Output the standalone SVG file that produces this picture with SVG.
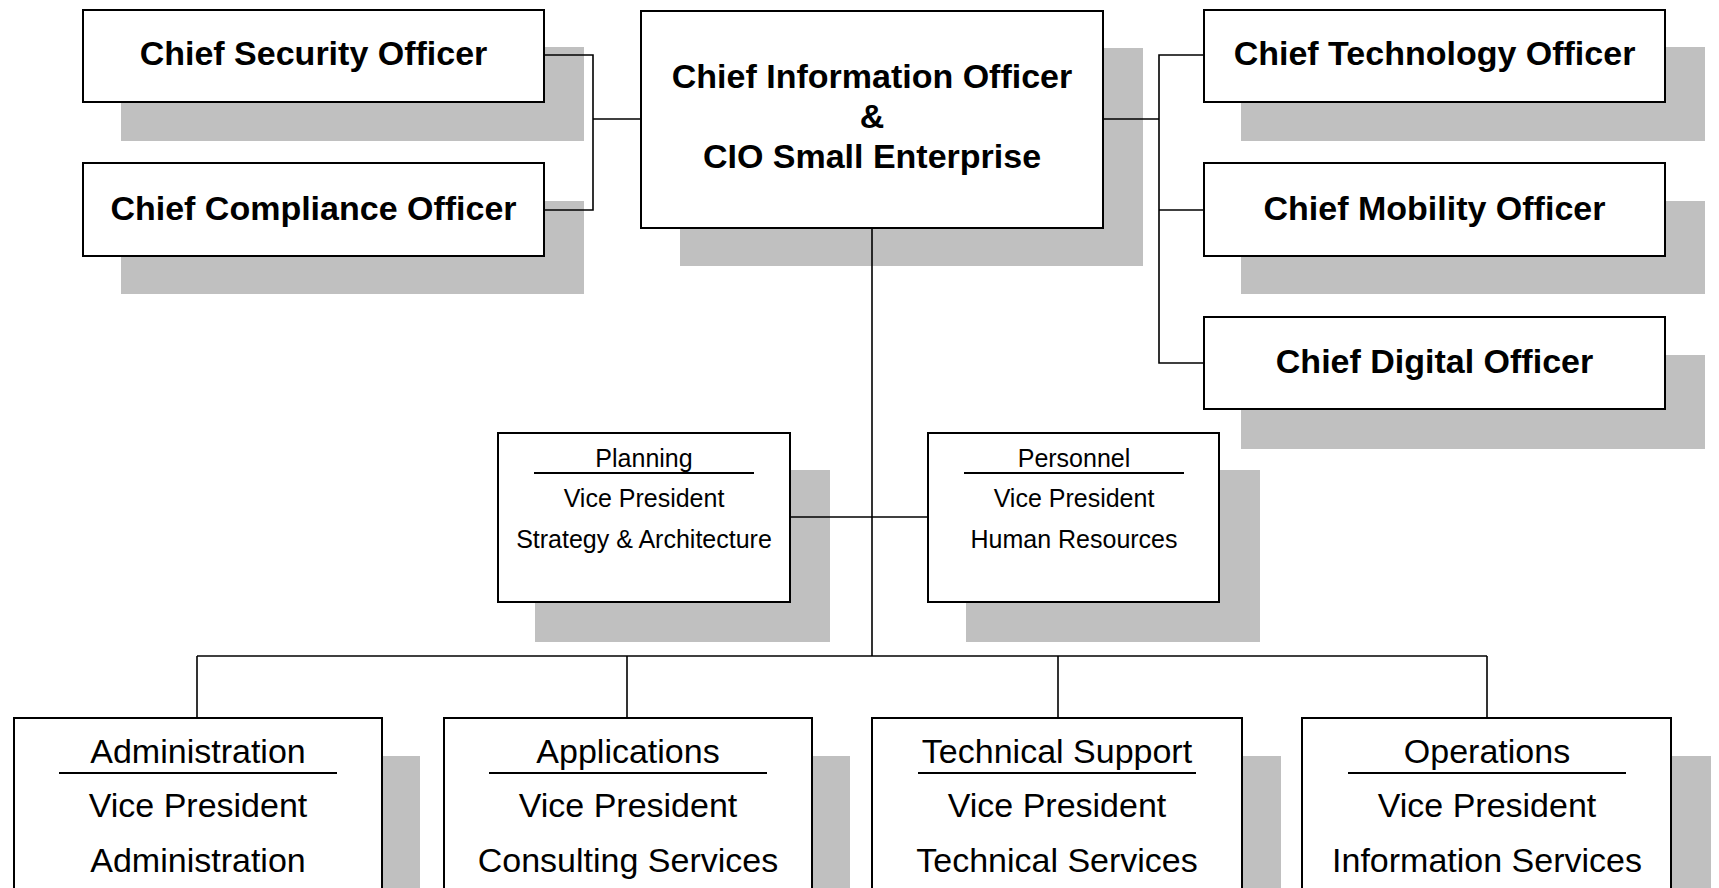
<svg xmlns="http://www.w3.org/2000/svg" width="1719" height="888" viewBox="0 0 1719 888">
<style>
.sh{fill:#c0c0c0;stroke:none}
.bx{fill:#fff;stroke:#000;stroke-width:2}
.b{font-family:"Liberation Sans",Arial,sans-serif;font-weight:bold;font-size:34px;fill:#000;text-anchor:middle}
.m{font-family:"Liberation Sans",Arial,sans-serif;font-size:25px;fill:#000;text-anchor:middle}
.l{font-family:"Liberation Sans",Arial,sans-serif;font-size:34px;fill:#000;text-anchor:middle}
.ul{stroke:#000;stroke-width:2}
.c{fill:none;stroke:#000;stroke-width:1.6}
</style>
<rect width="1719" height="888" fill="#fff"/>
<g id="cso">
<rect class="sh" x="121" y="47" width="463" height="94"/>
<rect class="bx" x="83" y="10" width="461" height="92"/>
<text class="b" x="313.5" y="65">Chief Security Officer</text>
</g>
<g id="cco">
<rect class="sh" x="121" y="201" width="463" height="93"/>
<rect class="bx" x="83" y="163" width="461" height="93"/>
<text class="b" x="313.5" y="220">Chief Compliance Officer</text>
</g>
<g id="cio">
<rect class="sh" x="680" y="48" width="463" height="218"/>
<rect class="bx" x="641" y="11" width="462" height="217"/>
<text class="b" x="872" y="88">Chief Information Officer</text>
<text class="b" x="872" y="128">&amp;</text>
<text class="b" x="872" y="168">CIO Small Enterprise</text>
</g>
<g id="cto">
<rect class="sh" x="1241" y="47" width="464" height="94"/>
<rect class="bx" x="1204" y="10" width="461" height="92"/>
<text class="b" x="1434.5" y="65">Chief Technology Officer</text>
</g>
<g id="cmo">
<rect class="sh" x="1241" y="201" width="464" height="93"/>
<rect class="bx" x="1204" y="163" width="461" height="93"/>
<text class="b" x="1434.5" y="220">Chief Mobility Officer</text>
</g>
<g id="cdo">
<rect class="sh" x="1241" y="355" width="464" height="94"/>
<rect class="bx" x="1204" y="317" width="461" height="92"/>
<text class="b" x="1434.5" y="373">Chief Digital Officer</text>
</g>
<g id="planning">
<rect class="sh" x="535" y="470" width="295" height="172"/>
<rect class="bx" x="498" y="433" width="292" height="169"/>
<text class="m" x="644" y="467">Planning</text>
<line class="ul" x1="534" y1="473" x2="754" y2="473"/>
<text class="m" x="644" y="507">Vice President</text>
<text class="m" x="644" y="548">Strategy &amp; Architecture</text>
</g>
<g id="personnel">
<rect class="sh" x="966" y="470" width="294" height="172"/>
<rect class="bx" x="928" y="433" width="291" height="169"/>
<text class="m" x="1074" y="467">Personnel</text>
<line class="ul" x1="964" y1="473" x2="1184" y2="473"/>
<text class="m" x="1074" y="507">Vice President</text>
<text class="m" x="1074" y="548">Human Resources</text>
</g>
<g id="administration">
<rect class="sh" x="52" y="756" width="368" height="200"/>
<rect class="bx" x="14" y="718" width="368" height="200"/>
<text class="l" x="198" y="763">Administration</text>
<line class="ul" x1="59" y1="773" x2="337" y2="773"/>
<text class="l" x="198" y="817">Vice President</text>
<text class="l" x="198" y="872">Administration</text>
</g>
<g id="applications">
<rect class="sh" x="482" y="756" width="368" height="200"/>
<rect class="bx" x="444" y="718" width="368" height="200"/>
<text class="l" x="628" y="763">Applications</text>
<line class="ul" x1="489" y1="773" x2="767" y2="773"/>
<text class="l" x="628" y="817">Vice President</text>
<text class="l" x="628" y="872">Consulting Services</text>
</g>
<g id="techsupport">
<rect class="sh" x="911" y="756" width="370" height="200"/>
<rect class="bx" x="872" y="718" width="370" height="200"/>
<text class="l" x="1057" y="763">Technical Support</text>
<line class="ul" x1="918" y1="773" x2="1196" y2="773"/>
<text class="l" x="1057" y="817">Vice President</text>
<text class="l" x="1057" y="872">Technical Services</text>
</g>
<g id="operations">
<rect class="sh" x="1341" y="756" width="370" height="200"/>
<rect class="bx" x="1302" y="718" width="369" height="200"/>
<text class="l" x="1487" y="763">Operations</text>
<line class="ul" x1="1348" y1="773" x2="1626" y2="773"/>
<text class="l" x="1487" y="817">Vice President</text>
<text class="l" x="1487" y="872">Information Services</text>
</g>
<g id="connectors">
<polyline class="c" points="544,55 593,55 593,210 544,210"/>
<line class="c" x1="593" y1="119" x2="641" y2="119"/>
<line class="c" x1="1103" y1="119" x2="1159" y2="119"/>
<polyline class="c" points="1204,55 1159,55 1159,363 1204,363"/>
<line class="c" x1="1159" y1="210" x2="1204" y2="210"/>
<line class="c" x1="872" y1="228" x2="872" y2="656"/>
<line class="c" x1="790" y1="517" x2="928" y2="517"/>
<line class="c" x1="197" y1="656" x2="1487" y2="656"/>
<line class="c" x1="197" y1="656" x2="197" y2="718"/>
<line class="c" x1="627" y1="656" x2="627" y2="718"/>
<line class="c" x1="1058" y1="656" x2="1058" y2="718"/>
<line class="c" x1="1487" y1="656" x2="1487" y2="718"/>
</g>
</svg>
